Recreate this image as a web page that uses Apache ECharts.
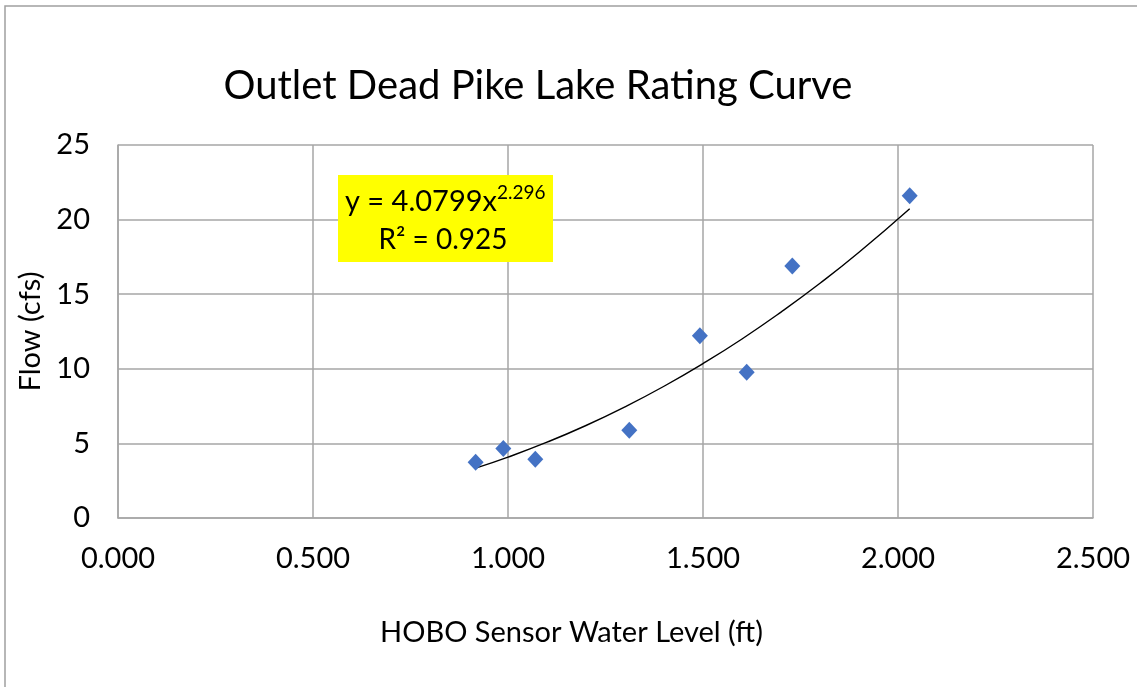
<!DOCTYPE html>
<html><head><meta charset="utf-8">
<script src="https://cdn.jsdelivr.net/npm/echarts@6/dist/echarts.min.js"></script>
<style>html,body{margin:0;padding:0;background:#fff}#c{width:1137px;height:687px}</style>
</head><body><div id="c"></div>
<script>
const levels = [0.917, 0.988, 1.070, 1.311, 1.492, 1.612, 1.729, 2.030];
const flows  = [3.73, 4.65, 3.93, 5.88, 12.22, 9.77, 16.89, 21.6];
const trendX = [0.917, 1.0, 1.1, 1.2, 1.3, 1.4, 1.5, 1.6, 1.7, 1.8, 1.9, 2.03];
const trendY = [3.34, 4.08, 5.08, 6.20, 7.45, 8.83, 10.35, 12.00, 13.80, 15.73, 17.81, 20.73];
const xTicks = ['0.000','0.500','1.000','1.500','2.000','2.500'];
const yTicks = ['0','5','10','15','20','25'];
const FONT = 'Lato';
const chart = echarts.init(document.getElementById('c'));
chart.setOption({
  animation:false,
  backgroundColor:'#fff',
  title:{text:'Outlet Dead Pike Lake Rating Curve',left:533,top:61,textAlign:'center',
    textStyle:{fontFamily:FONT,fontSize:40,fontWeight:'normal',color:'#000'}},
  grid:{left:118,right:44,top:145,bottom:169,containLabel:false},
  xAxis:{type:'value',min:0,max:2.5,interval:0.5,
    name:'HOBO Sensor Water Level (ft)',nameLocation:'middle',nameGap:100,
    nameTextStyle:{fontFamily:FONT,fontSize:29,color:'#000',padding:[0,68,0,0]},
    axisLine:{show:true,lineStyle:{color:'#a6a6a6',width:1.5}},axisTick:{show:false},
    axisLabel:{fontFamily:FONT,fontSize:29,color:'#000',margin:26,formatter:v=>xTicks[Math.round(v/0.5)]},
    splitLine:{show:true,lineStyle:{color:'#a6a6a6',width:1.5}}},
  yAxis:{type:'value',min:0,max:25,interval:5,
    name:'Flow (cfs)',nameLocation:'middle',nameGap:72,
    nameTextStyle:{fontFamily:FONT,fontSize:29,color:'#000'},
    axisLine:{show:true,lineStyle:{color:'#a6a6a6',width:1.5}},axisTick:{show:false},
    axisLabel:{fontFamily:FONT,fontSize:29,color:'#000',margin:28,formatter:v=>yTicks[Math.round(v/5)]},
    splitLine:{show:true,lineStyle:{color:'#a6a6a6',width:1.5}}},
  series:[
    {type:'line',data:trendX.map((x,i)=>[x,trendY[i]]),smooth:true,showSymbol:false,
     lineStyle:{color:'#000',width:1.4},z:2},
    {type:'scatter',data:levels.map((x,i)=>[x,flows[i]]),symbol:'diamond',symbolSize:[16,17],
     itemStyle:{color:'#4472C4',opacity:1},z:3}
  ],
  graphic:[
    {type:'rect',shape:{x:5,y:6,width:1140,height:700},style:{fill:'none',stroke:'#a0a0a0',lineWidth:1.5},silent:true},
    {type:'rect',shape:{x:338,y:175,width:215,height:87},style:{fill:'#ffff00'},z:10},
    {type:'text',x:345,y:202,style:{text:'y = 4.0799x',fontFamily:FONT,fontSize:29,fill:'#000',verticalAlign:'middle'},z:11},
    {type:'text',x:497,y:193,style:{text:'2.296',fontFamily:FONT,fontSize:19,fill:'#000',verticalAlign:'middle'},z:11},
    {type:'text',x:443,y:240,style:{text:'R² = 0.925',fontFamily:FONT,fontSize:28,fill:'#000',align:'center',verticalAlign:'middle'},z:11}
  ]
});
</script></body></html>
